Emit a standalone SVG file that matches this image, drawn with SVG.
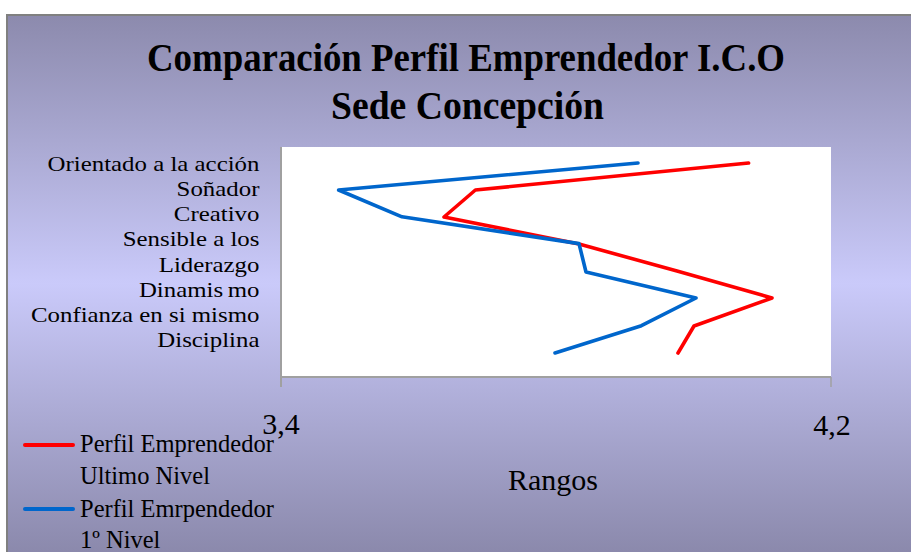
<svg xmlns="http://www.w3.org/2000/svg" width="911" height="552" viewBox="0 0 911 552">
  <defs>
    <linearGradient id="bg" x1="0" y1="15" x2="0" y2="552" gradientUnits="userSpaceOnUse">
      <stop offset="0" stop-color="#8C8AAD"/>
      <stop offset="0.5" stop-color="#CACAFA"/>
      <stop offset="1" stop-color="#8B89AC"/>
    </linearGradient>
  </defs>
  <style>
    .title { font-family: "Liberation Serif", "Times New Roman", serif; font-weight: bold; font-size: 40px; fill: #000; }
    .cat { font-family: "Liberation Serif", "Times New Roman", serif; font-size: 22px; fill: #000; text-anchor: end; }
    .axis { font-family: "Liberation Serif", "Times New Roman", serif; font-size: 30px; fill: #000; text-anchor: middle; }
    .leg { font-family: "Liberation Serif", "Times New Roman", serif; font-size: 24.5px; fill: #000; }
    .series { fill: none; stroke-width: 3.6; stroke-linejoin: round; stroke-linecap: round; }
  </style>
  <rect x="0" y="0" width="911" height="552" fill="#FFFFFF"/>
  <rect id="chart-bg" x="7" y="15" width="910" height="545" fill="url(#bg)" stroke="#808080" stroke-width="2"/>

  <g id="title">
    <text class="title" x="466" y="71" text-anchor="middle" textLength="638" lengthAdjust="spacingAndGlyphs">Comparación Perfil Emprendedor I.C.O</text>
    <text class="title" x="467.5" y="119" text-anchor="middle" textLength="273" lengthAdjust="spacingAndGlyphs">Sede Concepción</text>
  </g>

  <g id="plot-area">
    <rect x="281" y="147" width="550" height="230" fill="#FFFFFF"/>
    <line x1="281" y1="147" x2="281" y2="387" stroke="#A0A0A0" stroke-width="2"/>
    <line x1="281" y1="377" x2="831" y2="377" stroke="#A0A0A0" stroke-width="2"/>
    <line x1="831" y1="377" x2="831" y2="387" stroke="#A0A0A0" stroke-width="1.5"/>
  </g>

  <g id="categories" transform="scale(1.13,1)">
    <text class="cat" x="229.6" y="171">Orientado a la acción</text>
    <text class="cat" x="229.6" y="196">Soñador</text>
    <text class="cat" x="229.6" y="221">Creativo</text>
    <text class="cat" x="229.6" y="246">Sensible a los</text>
    <text class="cat" x="229.6" y="272">Liderazgo</text>
    <text class="cat" x="229.6" y="297">Dinamis<tspan dx="4">mo</tspan></text>
    <text class="cat" x="229.6" y="322">Confianza en si mismo</text>
    <text class="cat" x="229.6" y="347">Disciplina</text>
  </g>

  <g id="connectors">
    <polyline id="series-ultimo" class="series" stroke="#FF0000" points="748.6,163 475.4,190 444,217 579,244 677,271 772,298 694,326 678,353"/>
    <polyline id="series-primero" class="series" stroke="#0066CC" points="638,163 338.6,190 402,216.8 579,243.6 586,272 696,298 641.4,325.7 555,353"/>
  </g>

  <g id="axis-labels">
    <text class="axis" x="281" y="434">3,4</text>
    <text class="axis" x="832" y="435">4,2</text>
    <text class="axis" x="553" y="490" font-size="28.5">Rangos</text>
  </g>

  <g id="legend">
    <line x1="25" y1="445" x2="73" y2="445" stroke="#FF0000" stroke-width="4" stroke-linecap="round"/>
    <text class="leg" x="80" y="452">Perfil Emprendedor</text>
    <text class="leg" x="80" y="484">Ultimo Nivel</text>
    <line x1="25" y1="509" x2="73" y2="509" stroke="#0066CC" stroke-width="4" stroke-linecap="round"/>
    <text class="leg" x="80" y="517">Perfil Emrpendedor</text>
    <text class="leg" x="80" y="548">1º Nivel</text>
  </g>
</svg>
